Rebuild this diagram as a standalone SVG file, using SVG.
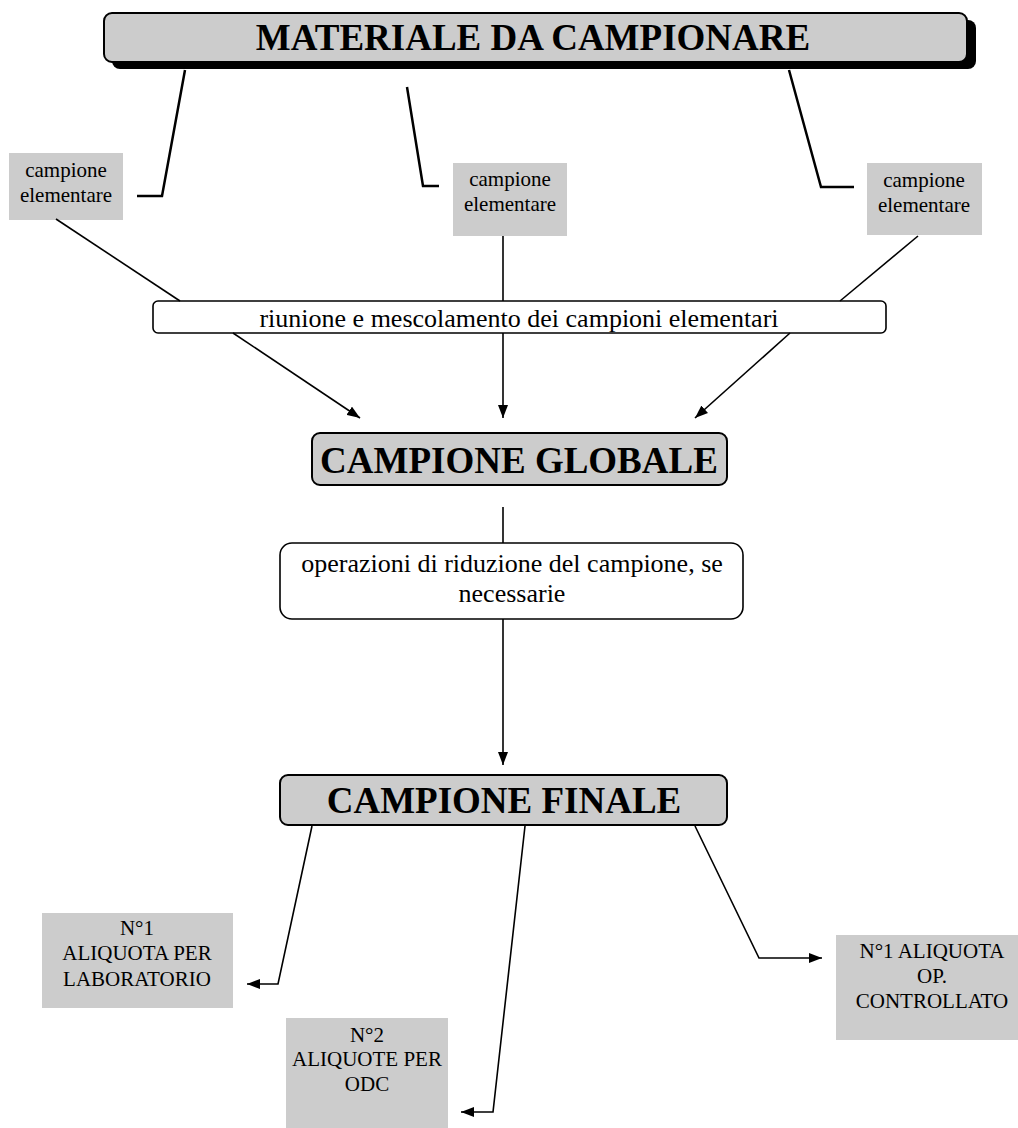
<svg xmlns="http://www.w3.org/2000/svg" width="1018" height="1128" viewBox="0 0 1018 1128">
<style>
.bg{fill:#ffffff}
.gbox{fill:#cccccc;stroke:#000;stroke-width:2}
.wbox{fill:#ffffff;stroke:#000;stroke-width:1.6}
.sbox{fill:#cccccc;stroke:none}
.t{font-family:'Liberation Serif','DejaVu Serif',serif;fill:#000;text-anchor:middle}
.big{font-size:37px;font-weight:bold}
.mid{font-size:26px}
.sm{font-size:21px}
.br{fill:none;stroke:#000;stroke-width:2.5}
.ln{fill:none;stroke:#000;stroke-width:1.6}
</style>
<defs>
<marker id="ah" markerUnits="userSpaceOnUse" markerWidth="14" markerHeight="10" refX="13" refY="5" orient="auto">
<path d="M0,0 L13,5 L0,10 Z" fill="#000"/>
</marker>
</defs>
<rect class="bg" x="0" y="0" width="1018" height="1128"/>

<g id="node-materiale">
<rect x="112" y="20" width="864" height="49" rx="8" fill="#000"/>
<rect class="gbox" x="104" y="13" width="863" height="49" rx="8"/>
<text class="t big" x="533" y="50" font-family="Liberation Serif, DejaVu Serif, serif">MATERIALE DA CAMPIONARE</text>
</g>

<g id="node-ce1">
<rect class="sbox" x="9" y="153" width="114" height="67"/>
<text class="t sm" x="66" y="177">campione</text>
<text class="t sm" x="66" y="202">elementare</text>
</g>
<g id="node-ce2">
<rect class="sbox" x="453" y="163" width="114" height="73"/>
<text class="t sm" x="510" y="186">campione</text>
<text class="t sm" x="510" y="211">elementare</text>
</g>
<g id="node-ce3">
<rect class="sbox" x="867" y="163" width="115" height="72"/>
<text class="t sm" x="924" y="187">campione</text>
<text class="t sm" x="924" y="212">elementare</text>
</g>

<g id="node-riunione">
<rect class="wbox" x="153" y="301" width="733" height="32" rx="5"/>
<text class="t mid" x="519" y="327">riunione e mescolamento dei campioni elementari</text>
</g>

<g id="node-globale">
<rect class="gbox" x="312" y="433" width="415" height="52" rx="8"/>
<text class="t big" x="519" y="473">CAMPIONE GLOBALE</text>
</g>

<g id="node-operazioni">
<rect class="wbox" x="280" y="543" width="463" height="76" rx="12" stroke-width="2"/>
<text class="t mid" x="512" y="572">operazioni di riduzione del campione, se</text>
<text class="t mid" x="512" y="602">necessarie</text>
</g>

<g id="node-finale">
<rect class="gbox" x="280" y="775" width="447" height="50" rx="8"/>
<text class="t big" x="504" y="813">CAMPIONE FINALE</text>
</g>

<g id="node-lab">
<rect class="sbox" x="42" y="913" width="191" height="95"/>
<text class="t sm" x="137" y="935">N°1</text>
<text class="t sm" x="137" y="960">ALIQUOTA PER</text>
<text class="t sm" x="137" y="986">LABORATORIO</text>
</g>

<g id="node-odc">
<rect class="sbox" x="286" y="1018" width="162" height="110"/>
<text class="t sm" x="367" y="1042">N°2</text>
<text class="t sm" x="367" y="1066">ALIQUOTE PER</text>
<text class="t sm" x="367" y="1091">ODC</text>
</g>

<g id="node-op">
<rect class="sbox" x="836" y="935" width="182" height="105"/>
<text class="t sm" x="932" y="958">N°1 ALIQUOTA</text>
<text class="t sm" x="932" y="983">OP.</text>
<text class="t sm" x="932" y="1008">CONTROLLATO</text>
</g>

<g id="connectors">
<polyline class="br" points="185,70 162,196 137,196"/>
<polyline class="br" points="407,87 423,186 439,186"/>
<polyline class="br" points="789,70 821,187 854,187"/>

<line class="ln" x1="56" y1="219" x2="180" y2="301"/>
<line class="ln" x1="503" y1="236" x2="503" y2="301"/>
<line class="ln" x1="918" y1="236" x2="840" y2="301"/>

<line class="ln" x1="233" y1="333" x2="360" y2="418" marker-end="url(#ah)"/>
<line class="ln" x1="503" y1="333" x2="503" y2="418" marker-end="url(#ah)"/>
<line class="ln" x1="790" y1="333" x2="695" y2="418" marker-end="url(#ah)"/>

<line class="ln" x1="503" y1="507" x2="503" y2="543"/>
<line class="ln" x1="503" y1="619" x2="503" y2="765" marker-end="url(#ah)"/>

<polyline class="ln" points="312,826 278,984 247,984" marker-end="url(#ah)"/>
<polyline class="ln" points="525,826 493,1112 461,1112" marker-end="url(#ah)"/>
<polyline class="ln" points="695,826 759,958 822,958" marker-end="url(#ah)"/>
</g>
</svg>
